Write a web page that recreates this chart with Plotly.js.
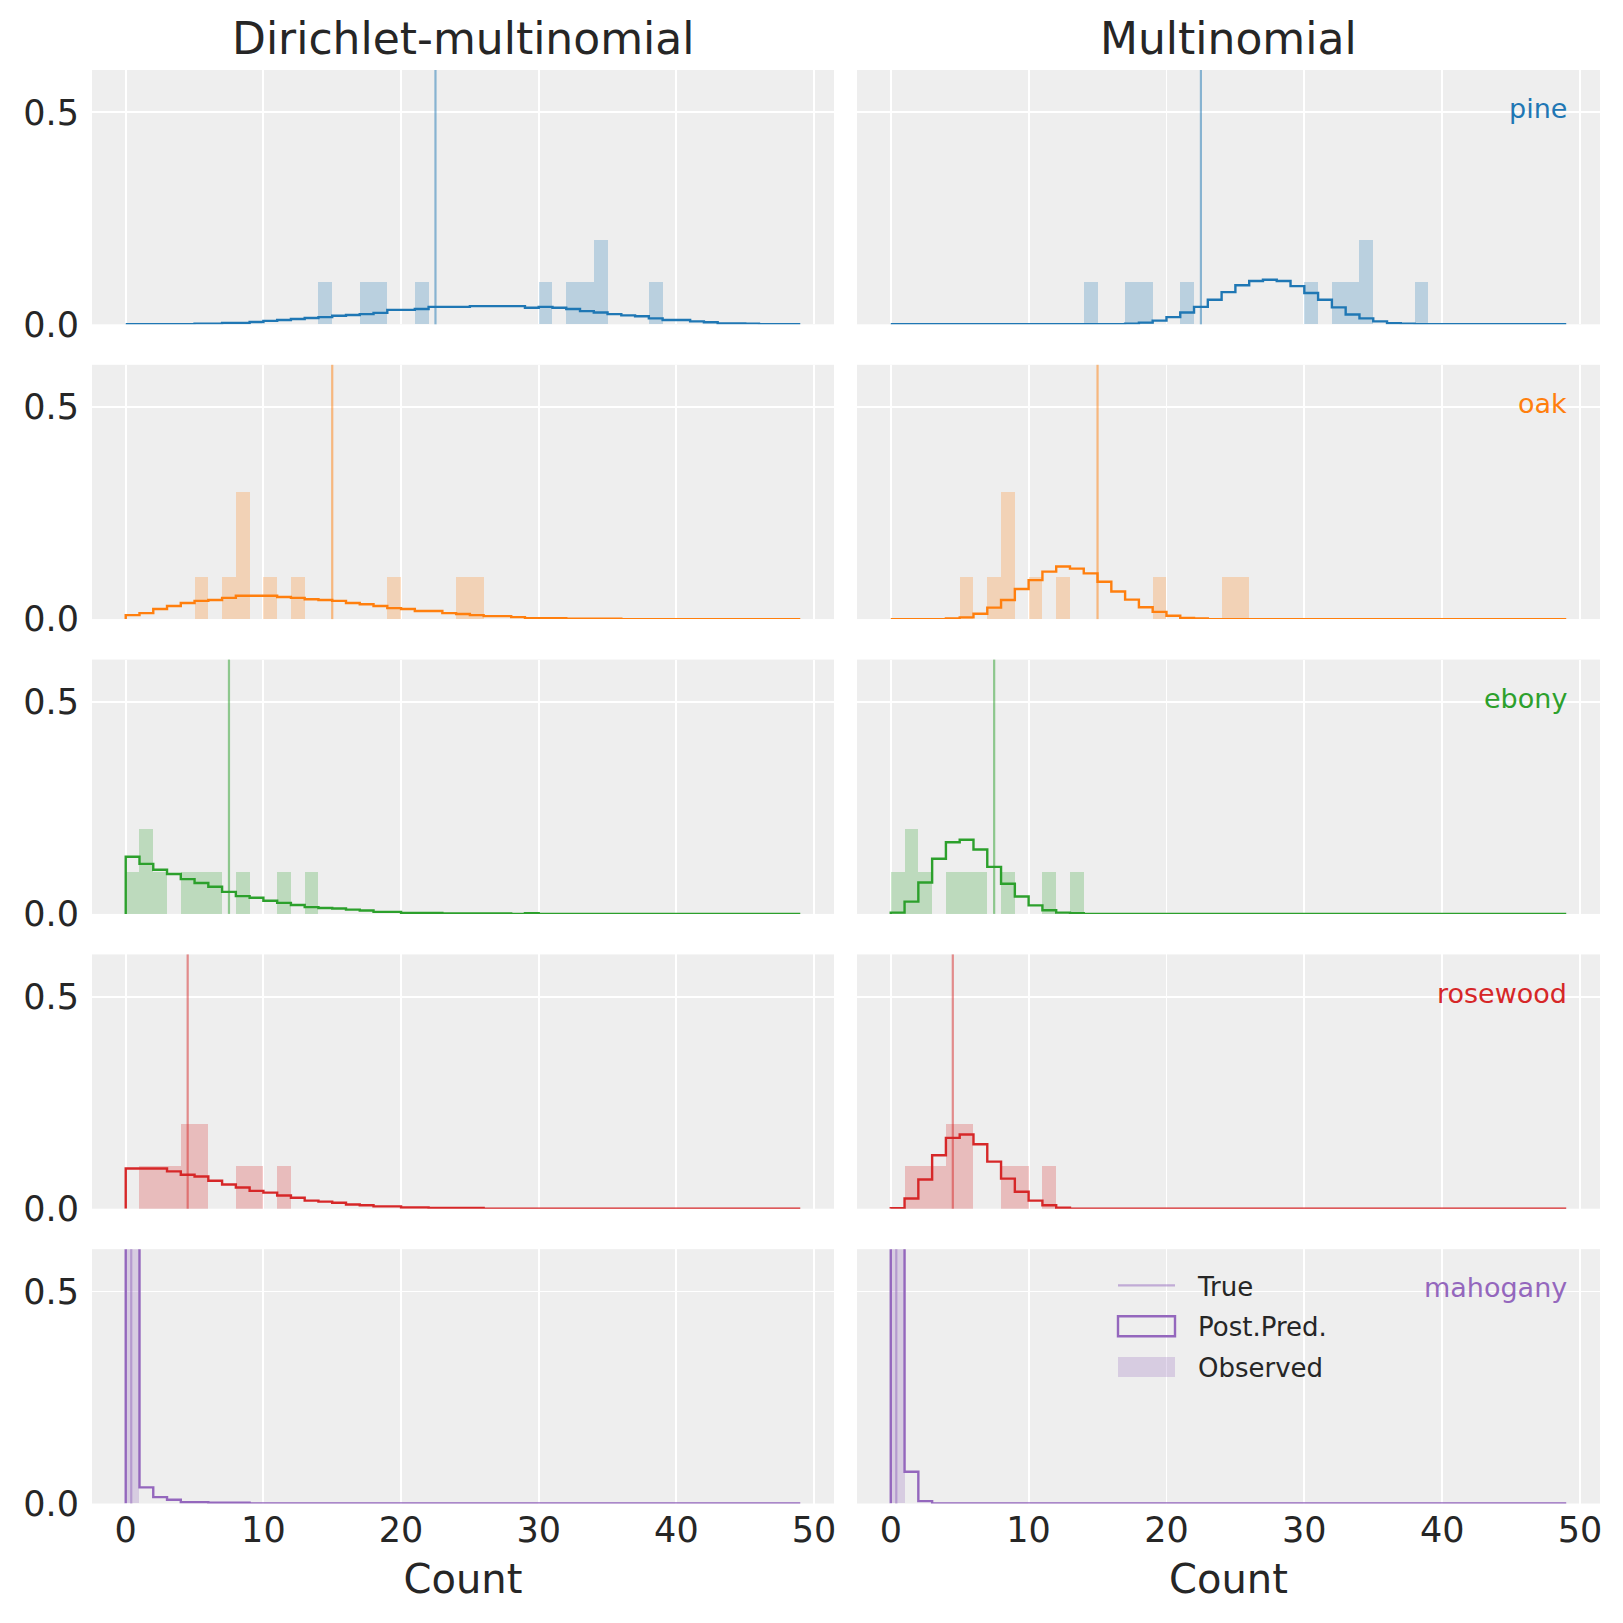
<!DOCTYPE html>
<html>
<head>
<meta charset="utf-8">
<script src="https://cdn.plot.ly/plotly-3.0.1.min.js"></script>
<style>html,body{margin:0;padding:0;background:#ffffff;}</style>
</head>
<body>
<div id="chart" style="width:1623px;height:1623px;"></div>
<script>
// ---------------- data ----------------
const woods = ["pine", "oak", "ebony", "rosewood", "mahogany"];
const models = ["Dirichlet-multinomial", "Multinomial"];
const woodColors = ["#1f77b4", "#ff7f0e", "#2ca02c", "#d62728", "#9467bd"];
const trueCounts = [22.5, 15.0, 7.5, 4.5, 0.4];

// observed counts (10 observations per wood)
const obsPine     = [14, 17, 18, 21, 30, 32, 33, 34, 34, 38];
const obsOak      = [5, 7, 8, 8, 8, 10, 12, 19, 24, 25];
const obsEbony    = [0, 1, 1, 2, 4, 5, 6, 8, 11, 13];
const obsRosewood = [1, 2, 3, 4, 4, 5, 5, 8, 9, 11];
const obsMahogany = [0, 0, 0, 0, 0, 0, 0, 0, 0, 0];

// posterior predictive bin edges (integer counts)
const countEdges = [0,1,2,3,4,5,6,7,8,9,10,11,12,13,14,15,16,17,18,19,20,21,22,23,24,25,26,27,28,29,30,31,32,33,34,35,36,37,38,39,40,41,42,43,44,45,46,47,48,49];

// posterior predictive densities, Dirichlet-multinomial
const dmPine = [0,0,0,0,0,0.0016,0.0016,0.003,0.003,0.0055,0.008,0.010,0.0126,0.015,0.017,0.020,0.022,0.024,0.027,0.034,0.034,0.036,0.041,0.041,0.041,0.043,0.043,0.043,0.043,0.039,0.041,0.039,0.036,0.031,0.028,0.024,0.021,0.019,0.014,0.010,0.010,0.007,0.005,0.002,0.002,0.0016,0,0,0];
const dmOak = [0.0094,0.014,0.024,0.031,0.038,0.043,0.045,0.050,0.055,0.055,0.055,0.052,0.050,0.047,0.045,0.043,0.038,0.035,0.031,0.026,0.024,0.019,0.019,0.014,0.012,0.0094,0.007,0.007,0.0047,0.0024,0.0024,0.0024,0.001,0.001,0.001,0.001,0,0,0,0,0,0,0,0,0,0,0,0,0];
const dmEbony = [0.135,0.118,0.104,0.094,0.082,0.073,0.064,0.052,0.042,0.038,0.031,0.026,0.021,0.016,0.014,0.0126,0.010,0.008,0.0047,0.0047,0.0024,0.0024,0.0024,0.001,0.001,0.001,0.001,0.001,0,0.0016,0,0,0,0,0,0,0,0,0,0,0,0,0,0,0,0,0,0,0];
const dmRosewood = [0.095,0.095,0.095,0.088,0.080,0.076,0.066,0.057,0.050,0.042,0.038,0.031,0.026,0.019,0.0166,0.014,0.010,0.008,0.0055,0.0055,0.003,0.003,0.0016,0.0016,0.0016,0.0016,0,0,0,0,0,0,0,0,0,0,0,0,0,0,0,0,0,0,0,0,0,0,0];
const dmMahogany = [0.93,0.038,0.015,0.0087,0.003,0.003,0.0016,0.0016,0.0016,0,0,0,0,0,0,0,0,0,0,0,0,0,0,0,0,0,0,0,0,0,0,0,0,0,0,0,0,0,0,0,0,0,0,0,0,0,0,0,0];

// posterior predictive densities, Multinomial
const mnPine = [0,0,0,0,0,0,0,0,0,0,0,0,0,0,0,0,0,0.0016,0.004,0.0087,0.017,0.028,0.041,0.058,0.076,0.092,0.102,0.105,0.102,0.090,0.074,0.058,0.040,0.023,0.014,0.007,0.0024,0.0016,0,0,0,0,0,0,0,0,0,0,0];
const mnOak = [0,0,0,0,0.0016,0.004,0.0126,0.027,0.045,0.071,0.092,0.112,0.124,0.119,0.108,0.088,0.065,0.046,0.028,0.017,0.008,0.003,0.0016,0,0,0,0,0,0,0,0,0,0,0,0,0,0,0,0,0,0,0,0,0,0,0,0,0,0];
const mnEbony = [0.003,0.029,0.074,0.130,0.169,0.175,0.152,0.111,0.071,0.041,0.020,0.0086,0.003,0.0016,0,0,0,0,0,0,0,0,0,0,0,0,0,0,0,0,0,0,0,0,0,0,0,0,0,0,0,0,0,0,0,0,0,0,0];
const mnRosewood = [0.001,0.024,0.069,0.126,0.167,0.175,0.152,0.111,0.071,0.040,0.019,0.008,0.0024,0,0,0,0,0,0,0,0,0,0,0,0,0,0,0,0,0,0,0,0,0,0,0,0,0,0,0,0,0,0,0,0,0,0,0,0];
const mnMahogany = [0.92,0.075,0.0055,0,0,0,0,0,0,0,0,0,0,0,0,0,0,0,0,0,0,0,0,0,0,0,0,0,0,0,0,0,0,0,0,0,0,0,0,0,0,0,0,0,0,0,0,0,0];

const xTicks = [0, 10, 20, 30, 40, 50];
const yTicks = [0, 0.5];

// ---------------- build ----------------
const observed = [obsPine, obsOak, obsEbony, obsRosewood, obsMahogany];
const postPred = [
  [dmPine, mnPine], [dmOak, mnOak], [dmEbony, mnEbony],
  [dmRosewood, mnRosewood], [dmMahogany, mnMahogany]
];

function rgba(hex, a) {
  const n = parseInt(hex.slice(1), 16);
  return `rgba(${(n >> 16) & 255},${(n >> 8) & 255},${n & 255},${a})`;
}
function stepLine(vals) {
  const xs = [countEdges[0]], ys = [0];
  for (let k = 0; k < vals.length; k++) { xs.push(countEdges[k]); ys.push(vals[k]); }
  const last = countEdges[countEdges.length - 1];
  xs.push(last); ys.push(vals[vals.length - 1]);
  xs.push(last); ys.push(0);
  return {xs, ys};
}

const H = 1623;
const colDom = [[92 / H, 834 / H], [857 / H, 1600 / H]];
const top0 = 70, pitch = 294.8, panelH = 254.3;
const textColor = '#262626';

const layout = {
  width: 1623, height: 1623,
  margin: {l: 0, r: 0, t: 0, b: 0},
  paper_bgcolor: '#ffffff', plot_bgcolor: '#eeeeee',
  font: {family: 'DejaVu Sans', color: textColor},
  barmode: 'overlay',
  showlegend: true,
  legend: {
    x: 1098 / H, y: 1 - 1262 / H, xanchor: 'left', yanchor: 'top',
    bgcolor: 'rgba(0,0,0,0)', borderwidth: 0,
    font: {size: 26, color: textColor},
    itemwidth: 90, traceorder: 'grouped', tracegroupgap: 4
  },
  annotations: [], shapes: []
};

const traces = [];
for (let r = 0; r < woods.length; r++) {
  const topPx = top0 + r * pitch;
  const botPx = topPx + panelH;
  for (let c = 0; c < 2; c++) {
    const i = r * 2 + c + 1;
    const sfx = i === 1 ? '' : String(i);
    const xr = 'x' + sfx, yr = 'y' + sfx;
    const color = woodColors[r];
    const isLast = (r === woods.length - 1 && c === 1);

    layout['xaxis' + sfx] = {
      domain: colDom[c], anchor: yr, range: [-2.45, 51.45],
      tickmode: 'array', tickvals: xTicks,
      showticklabels: r === woods.length - 1,
      tickfont: {size: 35, color: textColor},
      ticks: '', ticklabelstandoff: 2,
      showgrid: true, gridcolor: '#ffffff', gridwidth: 1.8,
      zeroline: false, showline: false, fixedrange: true,
      title: r === woods.length - 1 ? {text: 'Count', font: {size: 40, color: textColor}, standoff: 16} : {text: ''}
    };
    layout['yaxis' + sfx] = {
      domain: [1 - botPx / H, 1 - topPx / H], anchor: xr, range: [0, 0.6],
      tickmode: 'array', tickvals: yTicks, tickformat: '.1f',
      showticklabels: c === 0,
      tickfont: {size: 35, color: textColor},
      ticks: '', ticklabelstandoff: 12,
      showgrid: true, gridcolor: '#ffffff', gridwidth: 1.8,
      zeroline: false, showline: false, fixedrange: true
    };

    // observed histogram
    traces.push({
      type: 'histogram', x: observed[r],
      xbins: {start: 0, end: 50, size: 1}, histnorm: 'probability',
      marker: {color: rgba(color, 0.25), line: {width: 0}},
      xaxis: xr, yaxis: yr, name: 'Observed',
      showlegend: isLast, legendgroup: isLast ? 'g3' : undefined, legendrank: 3, hoverinfo: 'skip'
    });
    // posterior predictive step
    const st = stepLine(postPred[r][c]);
    traces.push({
      type: 'scatter', mode: 'lines', x: st.xs, y: st.ys,
      line: {shape: 'hv', color: color, width: 2.4},
      xaxis: xr, yaxis: yr, name: 'Post.Pred.',
      showlegend: false, hoverinfo: 'skip'
    });
    // true value line
    layout.shapes.push({
      type: 'line', xref: xr, yref: yr + ' domain',
      x0: trueCounts[r], x1: trueCounts[r], y0: 0, y1: 1,
      line: {color: rgba(color, 0.5), width: 2.2}, layer: 'above'
    });

    if (c === 1) {
      layout.annotations.push({
        text: woods[r], xref: xr + ' domain', yref: yr + ' domain',
        x: 0.958, y: 0.848, xanchor: 'right', yanchor: 'middle',
        showarrow: false, font: {size: 27, color: color}
      });
    }
    if (isLast) {
      // legend entries for the true line and the post. pred. outline
      traces.push({
        type: 'scatter', mode: 'lines', x: [null], y: [null],
        line: {color: rgba(color, 0.5), width: 2.2},
        xaxis: xr, yaxis: yr, name: 'True', showlegend: true,
        legendgroup: 'g1', legendrank: 1, hoverinfo: 'skip'
      });
      traces.push({
        type: 'bar', x: [null], y: [null],
        marker: {color: 'rgba(0,0,0,0)', line: {color: color, width: 2.4}},
        xaxis: xr, yaxis: yr, name: 'Post.Pred.', showlegend: true,
        legendgroup: 'g2', legendrank: 2, hoverinfo: 'skip'
      });
    }
  }
}

// column titles
models.forEach((m, c) => {
  layout.annotations.push({
    text: m, xref: 'paper', yref: 'paper',
    x: (colDom[c][0] + colDom[c][1]) / 2, y: 1 - 39 / H,
    xanchor: 'center', yanchor: 'middle', showarrow: false,
    font: {size: 44, color: textColor}
  });
});

Plotly.newPlot('chart', traces, layout, {displayModeBar: false, staticPlot: true}).then(gd => {
  // widen legend symbols into matplotlib-like patches
  try {
    gd.querySelectorAll('.legend .traces').forEach(g => {
      g.querySelectorAll('.legendpoints path').forEach(p => {
        p.setAttribute('d', 'M20,-10h57v20h-57Z');
        p.removeAttribute('transform');
        if (p.style.strokeWidth && parseFloat(p.style.strokeWidth) > 0) p.style.strokeWidth = '2.4px';
      });
      g.querySelectorAll('.legendlines path').forEach(p => p.setAttribute('d', 'M20,0h57'));
    });
  } catch (e) { /* keep default symbols */ }
});
</script>
</body>
</html>
